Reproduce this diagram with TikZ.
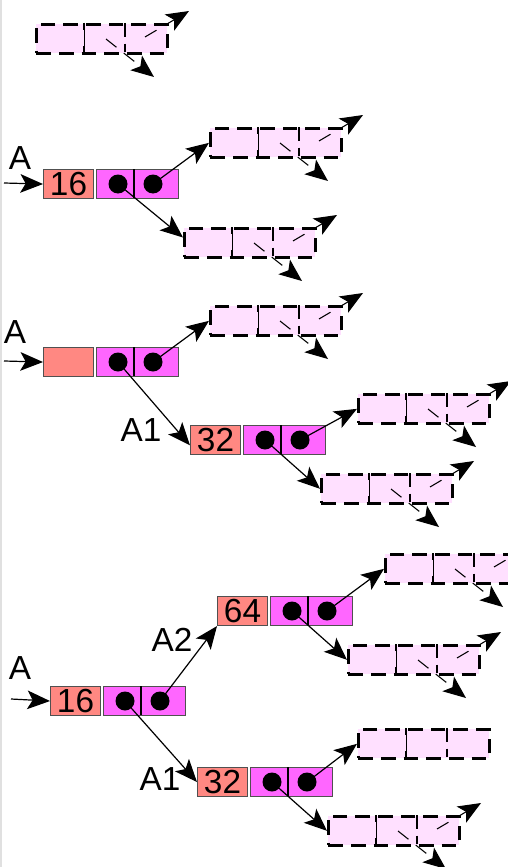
\documentclass[tikz,border=0pt]{standalone}
\usepackage{fontspec}
\setmainfont{Liberation Sans}
\usetikzlibrary{arrows.meta}
\definecolor{valred}{HTML}{FF8882}
\definecolor{ptrmag}{HTML}{FF66FF}
\definecolor{ghostpink}{HTML}{FFE0FF}
\definecolor{boxedge}{HTML}{505050}
\tikzset{
  valbox/.style={draw=boxedge, line width=0.8pt, fill=valred, minimum width=37.5pt,
    minimum height=21.75pt, inner sep=0pt, anchor=north west, font=\fontsize{25}{25}\selectfont},
  ptrbox/.style={draw=boxedge, line width=0.8pt, fill=ptrmag, minimum width=61.5pt,
    minimum height=21.75pt, inner sep=0pt, anchor=north west},
  ptrdot/.style={circle, fill=black, minimum size=14.25pt, inner sep=0pt},
  ghost/.style={draw=black, line width=2pt, dash pattern=on 11pt off 6pt, fill=ghostpink,
    minimum width=98.25pt, minimum height=21.75pt, inner sep=0pt, anchor=north west},
  link/.style={line width=0.9pt, -{Stealth[length=17pt,width=14pt,inset=4pt]}},
  ghostlink/.style={line width=0.8pt, dash pattern=on 10pt off 7pt,
    -{Stealth[length=17pt,width=14pt,inset=4pt]}},
  lbl/.style={font=\fontsize{25}{25}\selectfont, inner sep=0pt},
}
\newcommand\listnode[4]{%
  \node[valbox] (#1-v) at (#2,#3) {#4};
  \node[ptrbox] (#1-p) at (#2+53,#3) {};
  \draw[line width=1.5pt] (#2+91,#3) -- (#2+91,#3+29);
  \node[ptrdot] (#1-l) at (#2+75,#3+15) {};
  \node[ptrdot] (#1-r) at (#2+110,#3+15) {};
}
\newcommand\ghostbox[4]{%
  \node[ghost] (#1) at (#2,#3) {};
  \draw[line width=0.7pt] (#2+49,#3) -- (#2+49,#3+29);
  \draw[line width=2pt] (#2+49,#3) -- (#2+49,#3+7) (#2+49,#3+23) -- (#2+49,#3+29);
  \draw[line width=2pt, dash pattern=on 10.5pt off 5pt] (#2+90,#3) -- (#2+90,#3+29);
  \ifnum#4=1
    \coordinate (#1-a) at (#2+71,#3+16);
    \coordinate (#1-b) at (#2+119,#3+54);
    \coordinate (#1-c) at (#2+110,#3+14);
    \coordinate (#1-d) at (#2+154,#3-12);
    \draw[ghostlink] (#1-a) -- (#1-b);
    \draw[ghostlink] (#1-c) -- (#1-d);
  \fi
}
\begin{document}
\begin{tikzpicture}[x=0.75pt,y=-0.75pt]
\useasboundingbox (0,0) rectangle (507,867);
\fill[black!12] (0,0) rectangle (2,867);

% top ghost
\ghostbox{g0}{35}{23}{1}

% group 1
\node[lbl] (la1) at (20,158) {A};
\coordinate (e1) at (4,183);
\listnode{n1}{43}{169}{16}
\ghostbox{g1a}{209}{127}{1}
\ghostbox{g1b}{183}{227}{1}
\draw[link] (e1) -- (n1-v.west);
\draw[link] (n1-r.center) -- (g1a.west);
\draw[link] (n1-l.center) -- ([yshift=4pt]g1b.west);

% group 2
\node[lbl] (la2) at (15,332) {A};
\coordinate (e2) at (4,361);
\listnode{n2}{43}{347}{}
\ghostbox{g2a}{209}{305}{1}
\listnode{n3}{190}{425}{32}
\node[lbl] (la3) at (141,430) {A1};
\ghostbox{g3a}{357}{393}{1}
\ghostbox{g3b}{320}{473}{1}
\draw[link] (e2) -- (n2-v.west);
\draw[link] (n2-r.center) -- (g2a.west);
\draw[link] (n2-l.center) -- ([yshift=-4pt]n3-v.west);
\draw[link] (n3-r.center) -- (g3a.west);
\draw[link] (n3-l.center) -- (g3b.west);

% group 3
\node[lbl] (la4) at (20,668) {A};
\coordinate (e3) at (11,699);
\listnode{n4}{50}{686}{16}
\listnode{n5}{217}{596}{64}
\listnode{n6}{197}{767}{32}
\node[lbl] (la5) at (172,640) {A2};
\node[lbl] (la6) at (160,779) {A1};
\ghostbox{g4a}{384}{553}{1}
\ghostbox{g4b}{347}{644}{1}
\ghostbox{g5a}{357}{728}{0}
\ghostbox{g5b}{327}{815}{1}
\draw[link] (e3) -- (n4-v.west);
\draw[link] (n4-r.center) -- (n5-v.south west);
\draw[link] (n4-l.center) -- (n6-v.west);
\draw[link] (n5-r.center) -- (g4a.west);
\draw[link] (n5-l.center) -- (g4b.west);
\draw[link] (n6-r.center) -- (g5a.west);
\draw[link] (n6-l.center) -- (g5b.west);
\end{tikzpicture}
\end{document}
